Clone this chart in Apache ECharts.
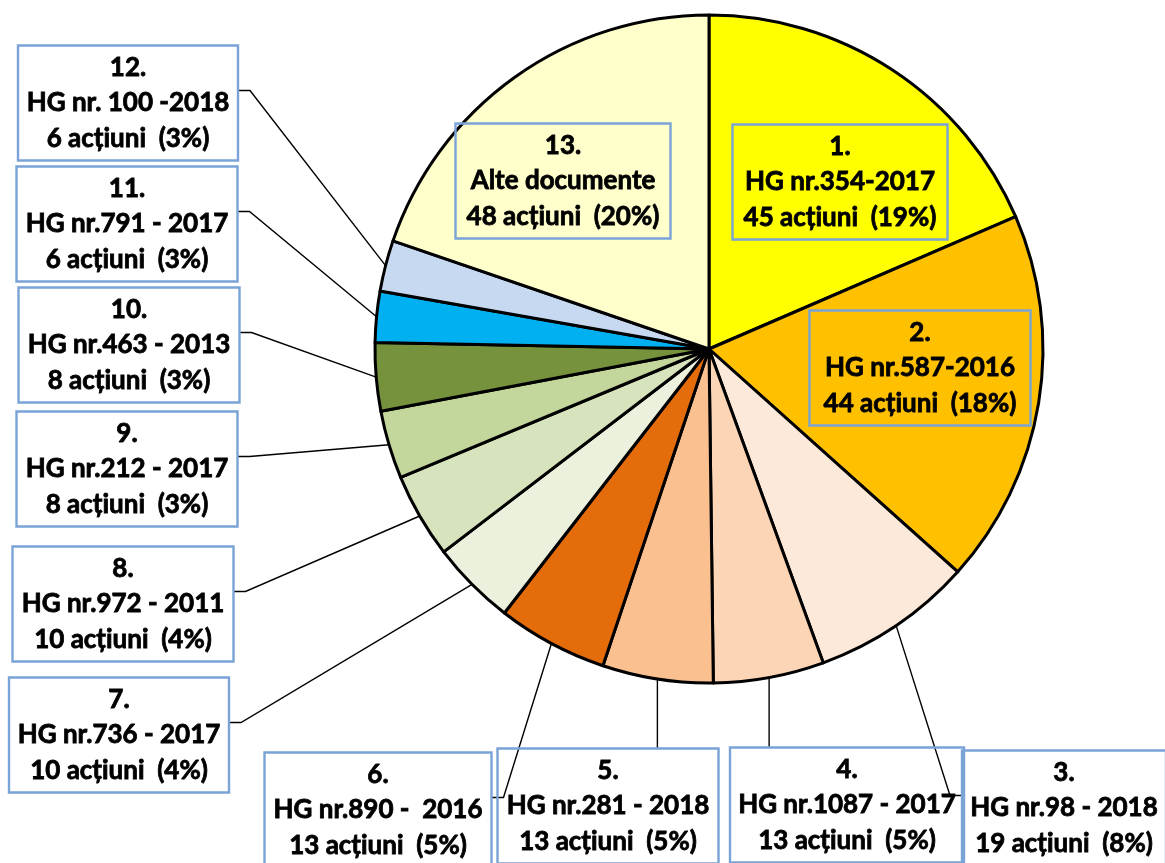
<!DOCTYPE html>
<html>
<head>
<meta charset="utf-8">
<script src="https://cdn.jsdelivr.net/npm/echarts@6/dist/echarts.min.js"></script>
<style>
	html, body { margin: 0; padding: 0; background: #fff; }
	#chart { width: 1165px; height: 863px; }
</style>
</head>
<body>
<div id="chart"></div>
<script>
// data, clockwise from 12 o'clock
var numbers = ['1.', '2.', '3.', '4.', '5.', '6.', '7.', '8.', '9.', '10.', '11.', '12.', '13.'];
var documents = ['HG nr.354-2017', 'HG nr.587-2016', 'HG nr.98 - 2018', 'HG nr.1087 - 2017', 'HG nr.281 - 2018',
	'HG nr.890 -  2016', 'HG nr.736 - 2017', 'HG nr.972 - 2011', 'HG nr.212 - 2017', 'HG nr.463 - 2013',
	'HG nr.791 - 2017', 'HG nr. 100 -2018', 'Alte documente'];
var actions = [45, 44, 19, 13, 13, 13, 10, 10, 8, 8, 6, 6, 48];
var percents = ['19%', '18%', '8%', '5%', '5%', '5%', '4%', '4%', '3%', '3%', '3%', '3%', '20%'];

var colors = ['#FFFF00', '#FFC000', '#FDE9D9', '#FBD5B5', '#FAC090', '#E46C0A', '#EBF1DD',
	'#D7E3BC', '#C3D69B', '#76923C', '#00B0F0', '#C6D9F1', '#FFFFCC'];
var insideLabels = [0, 1, 12];

// label boxes: center x, center y, width, height
var boxes = [
	[840, 182, 215, 115], [920, 368, 221, 115], [1064, 808, 204, 115], [847, 805, 234, 115],
	[608, 806, 221, 115], [378, 810, 227, 115], [119, 735, 220, 115], [123, 604, 221, 115],
	[127, 469, 221, 115], [129, 345, 221, 115], [127, 224, 221, 115], [128, 103, 220, 115],
	[563, 181, 215, 115]
];
// which side of the box the leader line comes into
var sides = ['', '', 'left', 'top', 'top', 'right', 'right', 'right', 'right', 'right', 'right', 'right', ''];
var attachOffset = 45;
var elbow = 12;

var chart = echarts.init(document.getElementById('chart'));

var seriesData = [];
for(var i=0; i<actions.length; i++){
	var inside = insideLabels.indexOf(i) >= 0;
	seriesData.push({
		name: documents[i],
		value: actions[i],
		itemStyle: { color: colors[i] },
		label: { position: inside ? 'inside' : 'outside' },
		labelLine: { show: !inside }
	});
}

function leaderLine(i, anchor){
	var b = boxes[i];
	var top = b[1] - b[3] / 2;
	var y = top + attachOffset;
	if(sides[i] == 'top')
		return [anchor, [anchor[0], top], [anchor[0], top]];
	if(sides[i] == 'left'){
		var left = b[0] - b[2] / 2;
		return [anchor, [left - elbow, y], [left, y]];
	}
	var right = b[0] + b[2] / 2;
	return [anchor, [right + elbow, y], [right, y]];
}

var options = {
	animation: false,
	series: [{
		type: 'pie',
		center: [709, 349],
		radius: 334,
		startAngle: 90,
		clockwise: true,
		avoidLabelOverlap: false,
		itemStyle: {
			borderColor: '#000',
			borderWidth: 3,
			borderJoin: 'round'
		},
		emphasis: { disabled: true },
		label: {
			show: true,
			color: '#000',
			fontFamily: 'Lato',
			fontWeight: 'bold',
			fontSize: 26,
			lineHeight: 35.5,
			textBorderColor: '#000',
			textBorderWidth: 0.8,
			overflow: 'none',
			backgroundColor: 'transparent',
			borderColor: '#7AA3D8',
			borderWidth: 1.2,
			formatter: function(p){
				var i = p.dataIndex;
				return numbers[i] + '\n' + documents[i] + '\n' + actions[i] + ' acțiuni  (' + percents[i] + ')';
			}
		},
		labelLine: {
			length: 10,
			length2: 11,
			lineStyle: { color: '#000', width: 1.4 }
		},
		labelLayout: function(params){
			var i = params.dataIndex;
			var b = boxes[i];
			var res = {
				x: b[0],
				y: b[1],
				align: 'center',
				verticalAlign: 'middle',
				width: b[2],
				height: b[3]
			};
			if(sides[i] && params.labelLinePoints && params.labelLinePoints.length){
				var p0 = params.labelLinePoints[0];
				res.labelLinePoints = leaderLine(i, [p0[0], p0[1]]);
			}
			return res;
		},
		data: seriesData
	}]
};

chart.setOption(options);
</script>
</body>
</html>
